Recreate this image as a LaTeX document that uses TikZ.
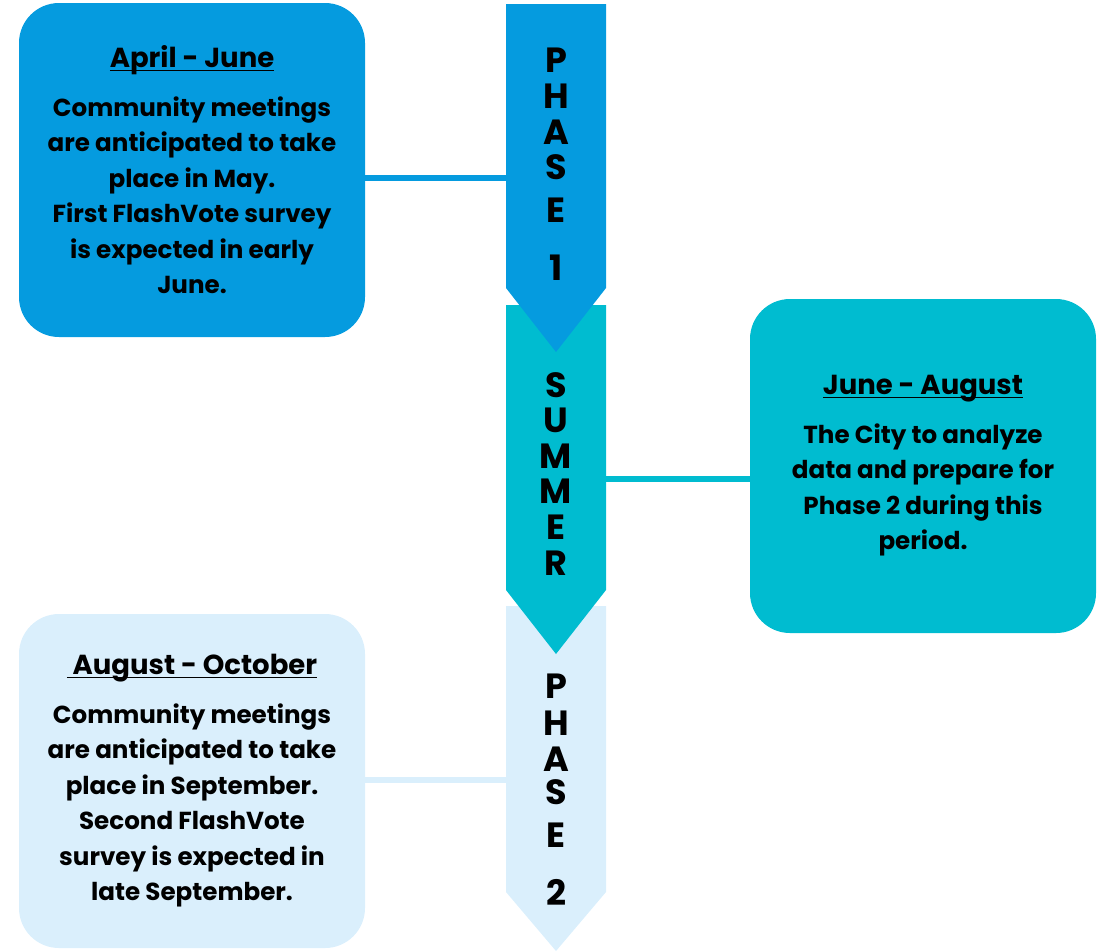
\documentclass[tikz,border=0pt]{standalone}
\usepackage{fontspec}
\setmainfont{Poppins}
\definecolor{cblue}{RGB}{5,155,223}
\definecolor{cteal}{RGB}{0,188,208}
\definecolor{clight}{RGB}{218,239,252}
\newcommand\myul[1]{\setbox0\hbox{#1}\rlap{\rule[-3.5pt]{\wd0}{1.8pt}}\box0}
\begin{document}
\begin{tikzpicture}[x=1pt,y=-1pt,
  box/.style={rounded corners=40pt, minimum width=346pt, minimum height=334pt, inner sep=0pt, align=center, font=\bfseries\fontsize{24.6}{35.5}\selectfont},
  letter/.style={font=\bfseries\fontsize{35}{35}\selectfont, inner sep=0pt},
  conn/.style={line width=5.5pt}]
\useasboundingbox (0,0) rectangle (1107,951);
% arrows (bottom first)
\fill[clight] (506,606) -- (606,606) -- (606,892) -- (556,951) -- (506,892) -- cycle;
\fill[cteal] (506,305) -- (606,305) -- (606,590) -- (556,654) -- (506,590) -- cycle;
\fill[cblue] (506,4) -- (606,4) -- (606,288) -- (556,352) -- (506,288) -- cycle;
\coordinate (a1w) at (506,178);
\coordinate (a2e) at (606,479);
\coordinate (a3w) at (506,780);
% letters
\foreach \l/\y [count=\i] in {P/60,H/96,A/132,S/167,E/210,1/268}
  \node[letter] (p1l\i) at (556,\y) {\l};
\foreach \l/\y [count=\i] in {S/385,U/420,M/456,M/491,E/527,R/563}
  \node[letter] (sml\i) at (556,\y) {\l};
\foreach \l/\y [count=\i] in {P/686,H/723,A/759,S/792,E/835,2/892}
  \node[letter] (p2l\i) at (556,\y) {\l};
% boxes
\node[box, fill=cblue] (b1) at (192,170) {{\fontsize{27.5}{35.5}\selectfont\myul{April - June}}\\[13pt]
Community meetings\\are anticipated to take\\place in May.\\First FlashVote survey\\is expected in early\\June.};
\node[box, fill=cteal] (b2) at (923,466) {{\fontsize{27.5}{35.5}\selectfont\myul{June - August}}\\[13pt]
The City to analyze\\data and prepare for\\Phase 2 during this\\period.};
\node[box, fill=clight] (b3) at (192,781) {{\fontsize{27.5}{35.5}\selectfont\myul{ August - October}}\\[13pt]
Community meetings\\are anticipated to take\\place in September.\\Second FlashVote\\survey is expected in\\late September.};
% connectors
\draw[conn, cblue] (b1.east |- a1w) -- (a1w);
\draw[conn, cteal] (a2e) -- (b2.west |- a2e);
\draw[conn, clight] (b3.east |- a3w) -- (a3w);
\end{tikzpicture}
\end{document}
